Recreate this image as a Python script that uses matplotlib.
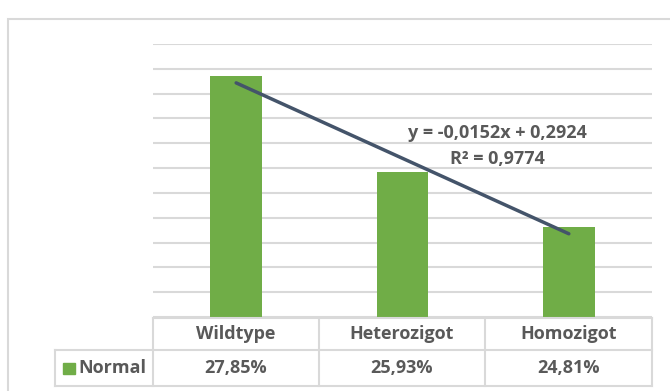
import numpy as np
import matplotlib.pyplot as plt
from matplotlib.lines import Line2D
from matplotlib.patches import Rectangle

categories = ["Wildtype", "Heterozigot", "Homozigot"]
values = [0.2785, 0.2593, 0.2481]
value_labels = ["27,85%", "25,93%", "24,81%"]
series_name = "Normal"
eq_text = "y = -0,0152x + 0,2924"
r2_text = "R² = 0,9774"

W, H = 670, 391
green = "#70AD47"
grid = "#D9D9D9"
txt = "#595959"
fsz = 13
plt.rcParams['font.family'] = ['Open Sans', 'DejaVu Sans']

fig = plt.figure(figsize=(W / 100, H / 100), dpi=100)

def fx(px):
    return px / W

def fy(py):
    return 1 - py / H

# outer chart frame
fig.add_artist(Rectangle((fx(8), fy(H + 20)), 1.2, fy(19) - fy(H + 20),
                         transform=fig.transFigure, fill=False, ec=grid, lw=1.5))

ax = fig.add_axes([fx(153), fy(317), fx(652) - fx(153), fy(44) - fy(317)])
x = np.arange(len(categories))
ax.bar(x, values, width=0.31, color=green, zorder=2)
ax.set_xlim(-0.5, 2.5)
ax.set_ylim(0.23, 0.285)
ax.set_yticks(np.arange(0.23, 0.2851, 0.005))
ax.yaxis.grid(True, color=grid, lw=1.5, zorder=0)
ax.set_xticks([])
ax.tick_params(left=False, labelleft=False)
for s in ax.spines.values():
    s.set_visible(False)

# linear trendline (x = 1..n as in Excel)
xt = x + 1
slope, intercept = np.polyfit(xt, values, 1)
ax.plot(x, slope * xt + intercept, color="#44546A", lw=2.5, solid_capstyle='round', zorder=3)
ax.text(1.57, 0.2671, eq_text, ha='center', va='center', fontsize=fsz,
        fontweight='bold', color=txt, zorder=4)
ax.text(1.57, 0.2619, r2_text, ha='center', va='center', fontsize=fsz,
        fontweight='bold', color=txt, zorder=4)

# data table
cols = [153, 319, 485, 652]
def hline(x0, x1, y):
    fig.add_artist(Line2D([fx(x0), fx(x1)], [fy(y), fy(y)], color=grid, lw=1.5))

def vline(xp, y0, y1):
    fig.add_artist(Line2D([fx(xp), fx(xp)], [fy(y0), fy(y1)], color=grid, lw=1.5))

hline(153, 652, 318)
hline(55, 652, 350)
hline(55, 652, 386)
for c in cols:
    vline(c, 318, 386)
vline(55, 350, 386)

for i, cat in enumerate(categories):
    cx = (cols[i] + cols[i + 1]) / 2
    fig.text(fx(cx), fy(334), cat, ha='center', va='center', fontsize=fsz,
             fontweight='bold', color=txt)
    fig.text(fx(cx), fy(368), value_labels[i], ha='center', va='center', fontsize=fsz,
             fontweight='bold', color=txt)

fig.add_artist(Rectangle((fx(63), fy(374)), fx(12), fy(363) - fy(374),
                         transform=fig.transFigure, color=green))
fig.text(fx(78), fy(368), series_name, ha='left', va='center', fontsize=fsz,
         fontweight='bold', color=txt)

fig.savefig("out.png", dpi=100)
